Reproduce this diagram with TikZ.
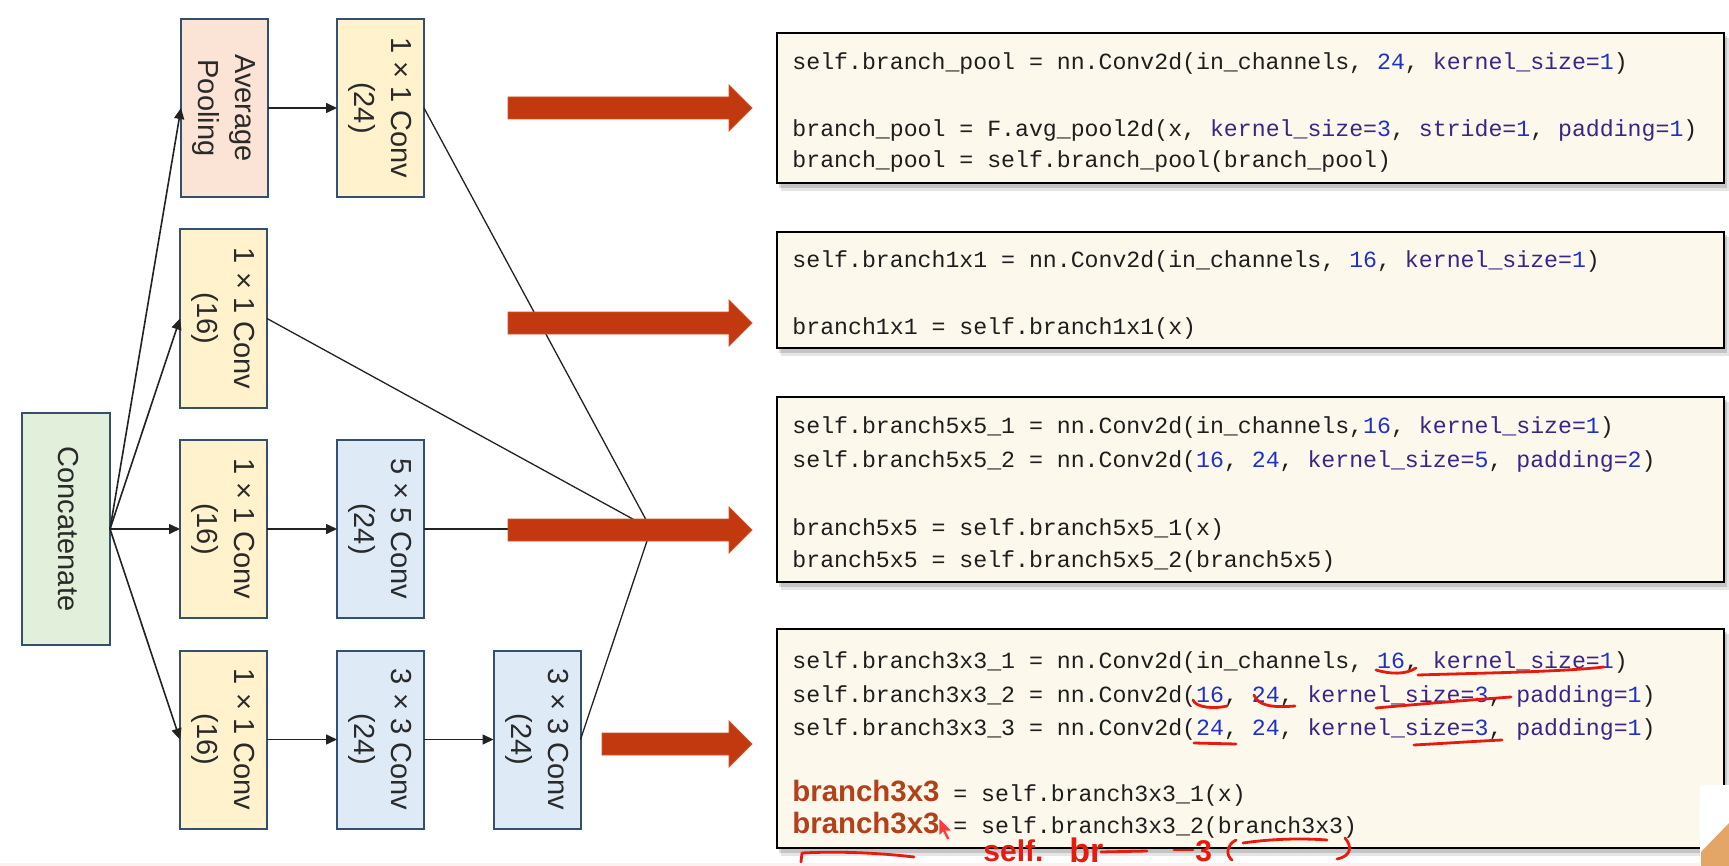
\documentclass[tikz,border=0pt]{standalone}
\usepackage{fontspec}
\usepackage{graphicx}
\setmainfont{Liberation Sans}
\setmonofont{Liberation Mono}
\newfontfamily\labfont{Liberation Sans}
\newfontfamily\brfam{Liberation Sans}
\usetikzlibrary{arrows.meta}
\definecolor{bordc}{HTML}{35506E}
\definecolor{labc}{HTML}{2A2A2A}
\definecolor{fillavg}{HTML}{FBE3D6}
\definecolor{fillyel}{HTML}{FFF2CC}
\definecolor{fillblu}{HTML}{DEEBF7}
\definecolor{fillgrn}{HTML}{E2EFDA}
\definecolor{redfill}{HTML}{C3390F}
\definecolor{rededge}{HTML}{D2522A}
\definecolor{codefill}{HTML}{FDF8EC}
\definecolor{codec}{HTML}{1E1E1E}
\definecolor{numc}{HTML}{1F33C2}
\definecolor{kwc}{HTML}{3A2585}
\definecolor{brc}{HTML}{B2401A}
\definecolor{handred}{HTML}{E8190F}
\definecolor{linec}{HTML}{222222}
\newcommand{\nm}[1]{\textcolor{numc}{#1}}
\newcommand{\kw}[1]{\textcolor{kwc}{#1}}
\newcommand{\brb}[1]{{\brfam\bfseries\fontsize{14.7}{14.7}\selectfont\color{brc}#1}}
\newcommand{\rlab}[1]{\rotatebox{-90}{\begin{tabular}{@{}c@{}}#1\end{tabular}}}
\newcommand{\redarr}[2]{\filldraw[fill=redfill,draw=rededge,line width=0.4pt] (#1,{#2-11}) -- (729,{#2-11}) -- (729,{#2-23}) -- (752,#2) -- (729,{#2+23}) -- (729,{#2+11}) -- (#1,{#2+11}) -- cycle;}
\begin{document}
\begin{tikzpicture}[x=0.5pt,y=-0.5pt,
  blk/.style={draw=bordc, line width=1pt, minimum width=43.5pt, minimum height=89pt, inner sep=0pt, outer sep=0pt,
    font=\labfont\fontsize{14.5}{18.5}\selectfont, text=labc},
  arr/.style={draw=linec, line width=0.8pt, -{Triangle[length=5.5pt,width=5pt]}},
  ln/.style={draw=linec, line width=0.65pt},
  codebox/.style={draw=black, line width=1.1pt, fill=codefill, minimum width=473.5pt, inner sep=0pt},
  code/.style={anchor=base west, inner sep=0pt, font=\ttfamily\fontsize{11.6}{11.6}\selectfont, text=codec},
  hand/.style={draw=handred, line width=1.4pt, line cap=round, line join=round},
  handtxt/.style={anchor=base west, inner sep=0pt, text=handred, font=\labfont\bfseries\fontsize{15}{15}\selectfont}]
\useasboundingbox (0,0) rectangle (1729,866);
\fill[white] (0,0) rectangle (1729,866);
\fill[red!6] (0,863) rectangle (1729,866);

% diagram boxes
\node[blk, fill=fillgrn, minimum width=44pt, minimum height=116pt] (concat) at (66,529) {\rlab{Concatenate}};
\node[blk, fill=fillavg] (avg) at (224.5,108) {\rlab{Average\\Pooling}};
\node[blk, fill=fillyel] (c24) at (380.5,108) {\rlab{1 × 1 Conv\\(24)}};
\node[blk, fill=fillyel] (c16a) at (223.5,318.5) {\rlab{1 × 1 Conv\\(16)}};
\node[blk, fill=fillyel] (c16b) at (223.5,529) {\rlab{1 × 1 Conv\\(16)}};
\node[blk, fill=fillblu] (c55) at (380.5,529) {\rlab{5 × 5 Conv\\(24)}};
\node[blk, fill=fillyel] (c16c) at (223.5,739.5) {\rlab{1 × 1 Conv\\(16)}};
\node[blk, fill=fillblu] (c33a) at (380.5,739.5) {\rlab{3 × 3 Conv\\(24)}};
\node[blk, fill=fillblu] (c33b) at (537,739.5) {\rlab{3 × 3 Conv\\(24)}};

% arrows
\draw[arr] (concat.east) -- (avg.west);
\draw[arr] (concat.east) -- (c16a.west);
\draw[arr] (concat.east) -- (c16b.west);
\draw[arr] (concat.east) -- (c16c.west);
\draw[arr] (avg.east) -- (c24.west);
\draw[arr] (c16b.east) -- (c55.west);
\draw[arr] (c16c.east) -- (c33a.west);
\draw[arr] (c33a.east) -- (c33b.west);

% converging lines
\coordinate (cv) at (651,529);
\draw[ln] (c24.east) -- (cv);
\draw[ln] (c16a.east) -- (cv);
\draw[ln] (c55.east) -- (cv);
\draw[ln] (c33b.east) -- (cv);

% red block arrows
\redarr{508}{108}
\redarr{508}{323}
\redarr{508}{530}
\redarr{602}{744}

% code box shadows
\foreach \ya/\yb in {33/183, 232/348, 397/582, 629/848}{
  \fill[black, opacity=0.10] (781,{\ya+5}) rectangle (1729,{\yb+8});
  \fill[black, opacity=0.14] (779,{\ya+3}) rectangle (1727,{\yb+5});
}
% code boxes
\node[codebox, minimum height=75pt] (cb1) at (1250.5,108) {};
\node[codebox, minimum height=58pt] (cb2) at (1250.5,290) {};
\node[codebox, minimum height=92.5pt] (cb3) at (1250.5,489.5) {};
\node[codebox, minimum height=109.5pt] (cb4) at (1250.5,738.5) {};

% code text
\node[code] (t11) at (792,70) {self.branch\_pool = nn.Conv2d(in\_channels, \nm{24}, \kw{kernel\_size=}\nm{1})};
\node[code] (t12) at (792,137) {branch\_pool = F.avg\_pool2d(x, \kw{kernel\_size=}\nm{3}, \kw{stride=}\nm{1}, \kw{padding=}\nm{1})};
\node[code] (t13) at (792,168) {branch\_pool = self.branch\_pool(branch\_pool)};

\node[code] (t21) at (792,268) {self.branch1x1 = nn.Conv2d(in\_channels, \nm{16}, \kw{kernel\_size=}\nm{1})};
\node[code] (t22) at (792,335) {branch1x1 = self.branch1x1(x)};

\node[code] (t31) at (792,433) {self.branch5x5\_1 = nn.Conv2d(in\_channels,\nm{16}, \kw{kernel\_size=}\nm{1})};
\node[code] (t32) at (792,467) {self.branch5x5\_2 = nn.Conv2d(\nm{16}, \nm{24}, \kw{kernel\_size=}\nm{5}, \kw{padding=}\nm{2})};
\node[code] (t33) at (792,535) {branch5x5 = self.branch5x5\_1(x)};
\node[code] (t34) at (792,567) {branch5x5 = self.branch5x5\_2(branch5x5)};

\node[code] (t41) at (792,668) {self.branch3x3\_1 = nn.Conv2d(in\_channels, \nm{16}, \kw{kernel\_size=}\nm{1})};
\node[code] (t42) at (792,702) {self.branch3x3\_2 = nn.Conv2d(\nm{16}, \nm{24}, \kw{kernel\_size=}\nm{3}, \kw{padding=}\nm{1})};
\node[code] (t43) at (792,735) {self.branch3x3\_3 = nn.Conv2d(\nm{24}, \nm{24}, \kw{kernel\_size=}\nm{3}, \kw{padding=}\nm{1})};
\node[code] (t44) at (792,801) {\brb{branch3x3} = self.branch3x3\_1(x)};
\node[code] (t45) at (792,833) {\brb{branch3x3} = self.branch3x3\_2(branch3x3)};

% handwritten red marks
\draw[hand] (1376,670) .. controls (1390,674) and (1405,675) .. (1416,668);
\draw[hand] (1418,675) .. controls (1480,673) and (1560,672) .. (1604,667);
\draw[hand] (1193,700) .. controls (1196,708) and (1215,709) .. (1227,706);
\draw[hand] (1254,695) .. controls (1258,705) and (1270,708) .. (1295,706);
\draw[hand] (1376,708) .. controls (1420,704) and (1470,700) .. (1511,697);
\draw[hand] (1194,743) -- (1236,744);
\draw[hand] (1414,745) .. controls (1450,743) and (1480,741) .. (1502,740);
\draw[hand] (801,862) -- (802,853) .. controls (840,851) and (880,853) .. (914,857);
\node[handtxt] (hw1) at (983,861) {self.};
\node[handtxt, font=\labfont\bfseries\fontsize{17}{17}\selectfont] (hw2) at (1069,862) {br};
\draw[hand] (1101,852) -- (1147,851);
\draw[hand] (1174,850) -- (1193,850);
\node[handtxt] (hw3) at (1195,861) {3};
\draw[hand] (1236,840) .. controls (1226,845) and (1226,856) .. (1232,860);
\draw[hand] (1243,843) .. controls (1270,839) and (1300,838) .. (1327,840);
\draw[hand] (1345,838) .. controls (1352,846) and (1352,856) .. (1337,859);

% mouse cursor
\filldraw[fill=red!70!pink, draw=white, line width=0.3pt] (939,818) -- (939,836) -- (943,832) -- (947,840) -- (950,839) -- (946,831) -- (952,831) -- cycle;

% corner overlay
\fill[white] (1700,785) rectangle (1729,866);
\fill[brown!60!orange!70] (1701,852) -- (1729,823) -- (1729,866) -- (1701,866) -- cycle;
\end{tikzpicture}
\end{document}
